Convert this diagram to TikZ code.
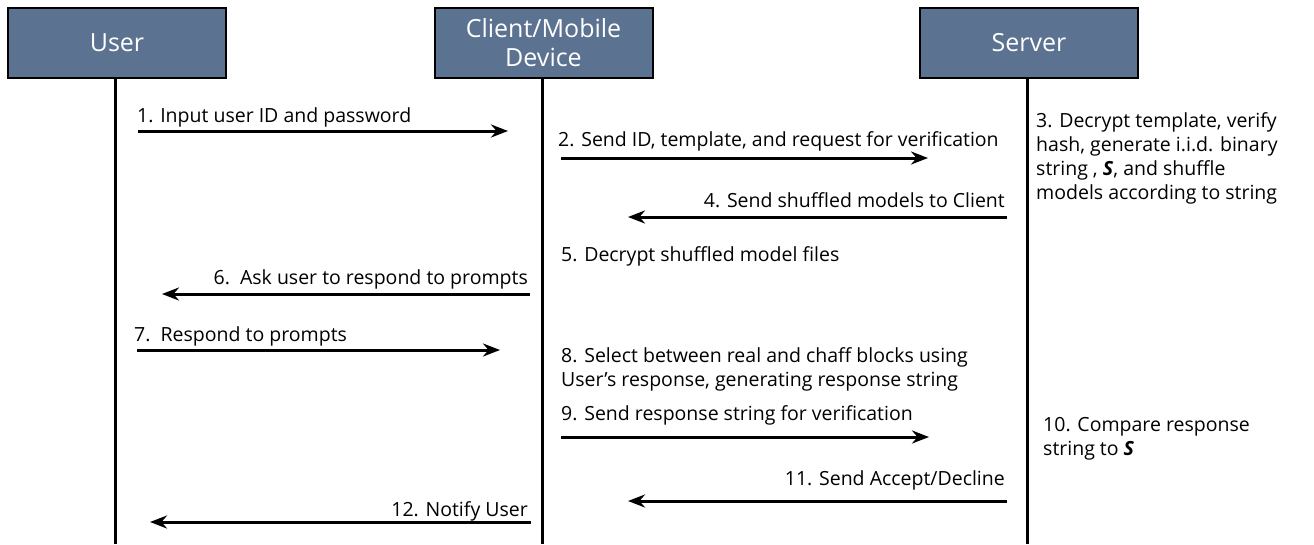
\documentclass[tikz,border=0pt]{standalone}
\usepackage{fontspec}
\setmainfont{Open Sans}
\usepackage{tikz}
\usetikzlibrary{arrows.meta,positioning,calc}
\definecolor{slate}{RGB}{91,114,145}

\begin{document}
\begin{tikzpicture}[
    x=1pt, y=-1pt,
    actor/.style={draw=black, line width=2pt, fill=slate, text=white,
                  minimum width=218pt, minimum height=70pt, align=center,
                  font=\fontsize{25}{29}\selectfont},
    life/.style={line width=3pt, black},
    msg/.style={-{Stealth[length=17pt,width=13pt]}, line width=3pt, black},
    lbl/.style={inner sep=0pt, font=\fontsize{19.5}{24}\selectfont},
    note/.style={inner sep=0pt, align=left, font=\fontsize{19.5}{24}\selectfont}
]
\useasboundingbox (0,0) rectangle (1314,544);

% actors
\node[actor] (user)   at (117,43)    {User};
\node[actor] (client) at (543.5,43)  {Client/Mobile\\Device};
\node[actor] (server) at (1029,43)   {Server};

% lifelines
\coordinate (userend)   at (115,544);
\coordinate (clientend) at (542,544);
\coordinate (serverend) at (1027,544);
\draw[life] (user.south -| userend) -- (userend);
\draw[life] (client.south -| clientend) -- (clientend);
\draw[life] (server.south -| serverend) -- (serverend);

% message end points
\coordinate (m1a) at (138,131);   \coordinate (m1b) at (508,131);
\coordinate (m2a) at (561,158);   \coordinate (m2b) at (928,158);
\coordinate (m4a) at (1007,217);  \coordinate (m4b) at (628,217);
\coordinate (m6a) at (530,294);   \coordinate (m6b) at (162,294);
\coordinate (m7a) at (137,350);   \coordinate (m7b) at (500,350);
\coordinate (m9a) at (561,437);   \coordinate (m9b) at (929,437);
\coordinate (m11a) at (1007,501); \coordinate (m11b) at (628,501);
\coordinate (m12a) at (531,522);  \coordinate (m12b) at (150,522);

\draw[msg] (m1a) -- (m1b);
\draw[msg] (m2a) -- (m2b);
\draw[msg] (m4a) -- (m4b);
\draw[msg] (m6a) -- (m6b);
\draw[msg] (m7a) -- (m7b);
\draw[msg] (m9a) -- (m9b);
\draw[msg] (m11a) -- (m11b);
\draw[msg] (m12a) -- (m12b);

% labels
\node[lbl, anchor=base west] (l1) at (137,122) {1. Input user ID and password};
\node[lbl, anchor=base west] (l2) at (558,146) {2. Send ID, template, and request for verification};
\node[lbl, anchor=base east] (l4) at (1005,207) {4. Send shuffled models to Client};
\node[lbl, anchor=base west] (l5) at (561,261) {5. Decrypt shuffled model files};
\node[lbl, anchor=base east] (l6) at (528,284) {6.\ \ Ask user to respond to prompts};
\node[lbl, anchor=base west] (l7) at (134,341) {7.\ \ Respond to prompts};
\node[lbl, anchor=base west] (l9) at (561,420) {9. Send response string for verification};
\node[lbl, anchor=base east] (l11) at (1005,485) {11. Send Accept/Decline};
\node[lbl, anchor=base east] (l12) at (528,516) {12. Notify User};

% notes (base = last line)
\node[note, anchor=base west] (n3) at (1036,199)
    {3. Decrypt template, verify\\hash, generate i.i.d. binary\\string , \textbf{\textit{S}}, and shuffle\\models according to string};
\node[note, anchor=base west] (n8) at (561,386)
    {8. Select between real and chaff blocks using\\User’s response, generating response string};
\node[note, anchor=base west] (n10) at (1043,455)
    {10. Compare response\\string to \textbf{\textit{S}}};
\end{tikzpicture}
\end{document}
